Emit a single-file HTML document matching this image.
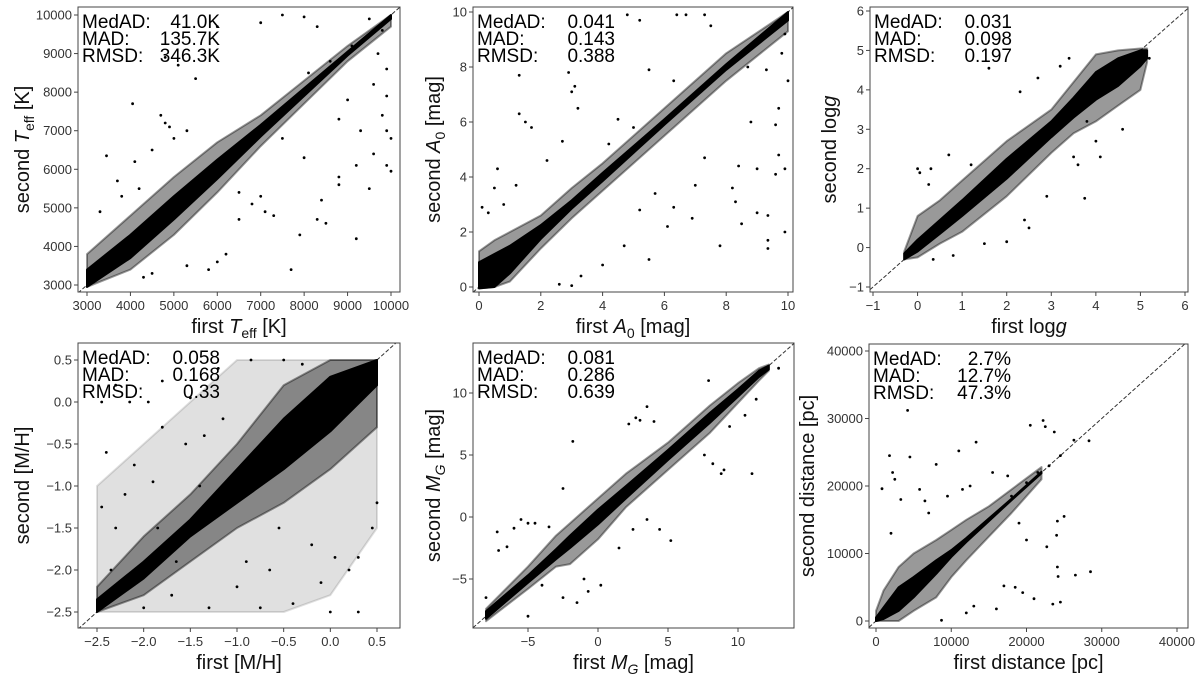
<!DOCTYPE html>
<html><head><meta charset="utf-8">
<style>
body{margin:0;background:#fff;}
svg{display:block;font-family:"Liberation Sans","DejaVu Sans",sans-serif;}
.tick{font-size:13px;fill:#333;}
.title{font-size:20px;fill:#111;}
.ann{font-size:19px;fill:#000;}
</style></head>
<body>
<svg id="fig" width="1200" height="675" viewBox="0 0 1200 675" xmlns="http://www.w3.org/2000/svg"></svg>
<script>
// ---------- Panel 1: Teff ----------
const teffBandX   = [3000,4000,5000,6000,7000,8000,9000,10000];
const teffCoreLo  = [2950,3700,4700,5750,6850,7900,8950,9900];
const teffCoreHi  = [3400,4300,5300,6250,7150,8100,9050,10000];
const teffHaloLo  = [2950,3400,4300,5400,6600,7700,8800,9700];
const teffHaloHi  = [3800,4800,5800,6700,7400,8300,9200,10000];
const teffOutX = [4800,4700,4900,4050,3450,4100,3700,4200,3300,3800,5500,5100,4800,6000,7000,7500,8000,8300,9500,8600,9100,9700,9900,9600,9900,9000,9800,9900,10000,9600,9900,10000,9200,8800,8800,8400,8300,8500,7900,9200,7700,7300,7100,6800,7000,6500,6200,6000,5800,5300,4500,4300,6500,5000,5300,4500,8100,8800,9300,9500,8000,7500,9800];
const teffOutY = [7200,7400,7100,7700,6350,6200,5700,5500,4900,5300,8350,8700,8900,9700,9800,10000,9950,9700,9900,8800,9200,9000,8600,8200,7900,7800,7400,7000,6800,6400,6100,5950,6100,5800,5600,5200,4700,4600,4300,4200,3400,4800,4900,5100,5300,4700,3800,3600,3400,3500,3300,3200,5400,6800,7000,6500,8500,7300,7000,5500,6300,6800,9600];
const teffTicks = [3000,4000,5000,6000,7000,8000,9000,10000];
const teffStats = ["41.0K","135.7K","346.3K"];

// ---------- Panel 2: A0 ----------
const a0BandX  = [0,0.5,1,2,3,4,6,8,10];
const a0CoreLo = [-0.05,0,0.5,1.75,2.85,3.85,5.9,7.9,9.7];
const a0CoreHi = [0.9,1.2,1.5,2.25,3.15,4.15,6.1,8.1,10];
const a0HaloLo = [-0.05,0,0.2,1.4,2.5,3.5,5.5,7.5,9.3];
const a0HaloHi = [1.3,1.7,2.0,2.6,3.6,4.5,6.5,8.5,10];
const a0OutX = [1.3,1.3,1.5,1.7,2.9,3.0,3.1,2.7,3.2,2.2,0.6,0.5,0.1,0.3,1.2,0.8,4.8,5.2,6.4,6.7,7.3,7.5,8.7,9.3,9.7,9.6,9.7,9.9,9.6,9.0,8.4,8.2,8.3,7.8,8.5,9.0,9.35,9.35,9.35,9.9,7.0,6.3,6.1,5.5,4.7,5.2,3.0,2.6,4.0,3.3,6.9,7.3,5.7,8.8,9.8,9.9,10,6.3,5.5,4.5,4.2,5.0];
const a0OutY = [7.7,6.3,6.0,5.8,7.8,7.1,7.3,5.3,6.5,4.6,4.3,3.6,2.9,2.7,3.7,3.0,9.9,9.7,9.9,9.9,9.9,9.5,8.0,7.9,6.5,5.9,4.8,4.3,4.1,4.3,4.4,3.6,3.1,1.5,2.3,2.7,2.6,1.7,1.4,2.0,3.7,2.9,2.2,1.0,1.5,2.8,0.05,0.1,0.8,0.4,2.5,4.7,3.4,6.0,8.5,9.2,7.5,7.5,7.9,6.1,5.2,5.8];
const a0Ticks = [0,2,4,6,8,10];
const a0Stats = ["0.041","0.143","0.388"];

// ---------- Panel 3: logg ----------
const lgBandX  = [-0.3,0,0.5,1,2,3,3.5,4,4.5,5,5.15];
const lgCoreLo = [-0.3,-0.1,0.35,0.8,1.75,2.8,3.3,3.75,4.1,4.6,4.8];
const lgCoreHi = [-0.15,0.2,0.7,1.2,2.25,3.2,3.8,4.45,4.8,5.0,5.0];
const lgHaloLo = [-0.3,-0.25,0.1,0.4,1.3,2.4,2.9,3.2,3.6,4.0,4.7];
const lgHaloHi = [-0.1,0.8,1.2,1.7,2.7,3.5,4.2,4.9,5.0,5.05,5.05];
const lgOutX = [0,0.05,0.3,0.7,1.6,2.3,2.7,3.2,3.4,3.6,3.75,4.1,2.9,2.5,2.0,1.5,0.35,4.6,4.0,3.8,3.5,2.4,1.2,0.25,5.2,0.8];
const lgOutY = [2.0,1.9,2.0,2.35,4.55,3.95,4.3,4.6,4.8,2.1,1.25,2.3,1.3,0.5,0.15,0.1,-0.3,3.0,2.7,3.2,2.3,0.7,2.1,1.6,4.8,-0.2];
const lgTicks = [-1,0,1,2,3,4,5,6];
const lgStats = ["0.031","0.098","0.197"];

// ---------- Panel 4: [M/H] ----------
const mhBandX  = [-2.5,-2.0,-1.5,-1.0,-0.5,0,0.5];
const mhCoreLo = [-2.5,-2.1,-1.6,-1.2,-0.8,-0.35,0.2];
const mhCoreHi = [-2.35,-1.9,-1.4,-0.8,-0.2,0.3,0.5];
const mhHaloLo = [-2.5,-2.3,-1.9,-1.5,-1.2,-0.8,-0.3];
const mhHaloHi = [-2.2,-1.6,-1.1,-0.5,0.2,0.5,0.5];
const mhSparseLo = [-2.5,-2.5,-2.5,-2.5,-2.5,-2.3,-1.5];
const mhSparseHi = [-1.0,-0.5,0.0,0.5,0.5,0.5,0.5];
const mhOutX = [-1.95,-2.3,-1.8,-1.5,-1.2,-0.85,-0.5,-0.3,-2.4,-2.1,-1.8,-2.2,-2.45,-2.3,-1.85,-2.35,-2.0,-1.7,-1.3,-1.0,-0.65,-0.4,0,0.3,-0.1,0.05,0.3,0.45,0.5,-0.2,-1.55,-1.15,-1.9,-1.65,-0.55,-0.9,-1.4,-2.15,-1.35,-0.75,0.2,-2.45];
const mhOutY = [0,0.2,0.25,0.05,0.4,0.5,0.5,0.45,-0.6,-0.75,-0.3,-1.1,-1.25,-1.5,-1.5,-2.0,-2.45,-2.3,-2.45,-2.2,-2.0,-2.4,-2.5,-2.5,-2.15,-1.85,-1.85,-1.5,-1.2,-1.7,-0.5,-0.2,-0.95,-1.9,-1.5,-1.9,-1.0,0.0,-0.4,-2.45,-2.0,0.0];
const mhTicks = [-2.5,-2.0,-1.5,-1.0,-0.5,0.0,0.5];
const mhStats = ["0.058","0.168","0.33"];

// ---------- Panel 5: MG ----------
const mgBandX  = [-8,-5,-3,-2,0,2,5,8,10,11.5,12.2];
const mgCoreLo = [-8.2,-5.3,-3.4,-2.5,-0.6,1.5,4.6,7.6,9.7,11.3,11.9];
const mgCoreHi = [-7.6,-4.7,-2.6,-1.5,0.6,2.5,5.4,8.4,10.3,11.8,12.2];
const mgHaloLo = [-8.4,-5.8,-4.0,-3.8,-1.8,0.8,3.8,6.8,9.2,11.0,11.8];
const mgHaloHi = [-7.4,-4.0,-1.5,-0.5,1.5,3.5,6.0,9.0,10.8,12.0,12.3];
const mgOutX = [-7.2,-7.1,-6.5,-5.5,-5,-4.5,-3.5,-2.5,-1.8,2.2,2.7,3,3.5,4,7.9,8.3,10.5,11.3,12.9,11,9,8.8,7.6,8.2,5.2,4.4,3.5,2.5,0.2,-0.7,-1.5,-2.5,-5,-8,-4,-1,1.5,9.4,-6];
const mgOutY = [-1.2,-2.7,-2.4,-0.2,-0.5,-0.5,-0.8,2.3,6.1,7.5,8.0,7.8,8.9,7.7,11,8.2,8.2,9.5,12,3.5,3.8,3.5,5,4.3,-1.9,-1.0,-0.2,-1.0,-5.5,-6,-6.9,-6.5,-8,-6.5,-5.5,-5,-2.5,7.3,-0.9];
const mgTicks = [-5,0,5,10];
const mgStats = ["0.081","0.286","0.639"];

// ---------- Panel 6: distance ----------
const dBandX  = [0,1000,3000,5000,8000,10000,12000,15000,18000,22000];
const dCoreLo = [0,300,1500,3500,7000,9500,11700,14800,17900,21900];
const dCoreHi = [500,2000,5000,6500,9000,10500,12300,15200,18100,22100];
const dHaloLo = [0,0,0,1500,3500,6500,9000,12500,16000,21000];
const dHaloHi = [1500,4500,8000,10000,12000,13500,15000,17000,19500,22800];
const dOutX = [4200,1800,2200,2500,800,4500,8000,11000,13300,15500,17500,20500,22200,22500,23700,26300,28300,25000,24100,24000,24100,24200,26500,28500,23500,24500,21000,19500,18500,17000,16000,12000,13000,8700,22700,20000,19000,3300,5800,6500,9500,11500,12500,7000,2000,18000,20000,21500,23000,24500];
const dOutY = [31200,24500,22000,21000,19600,24300,23200,25200,26500,22000,21500,29000,29700,28800,28000,26800,26700,15500,14800,12700,8000,6600,6800,7300,2500,2800,3300,4200,5000,5200,1800,1200,2200,100,11000,12000,14500,18000,19500,17800,18500,19500,20000,16000,13000,18500,20500,22000,23000,24500];
const dTicks = [0,10000,20000,30000,40000];
const dStats = ["2.7%","12.7%","47.3%"];

const NS = "http://www.w3.org/2000/svg";
const svg = document.getElementById('fig');
function mk(tag, attrs, parent){ const e=document.createElementNS(NS,tag); for(const k in attrs) e.setAttribute(k,attrs[k]); (parent||svg).appendChild(e); return e; }

const panels = [
 {key:'teff', box:[78,7,400,292], t:[3000,10000], tp:[87,391], ty:[285,15],
  bandX:teffBandX, core:[teffCoreLo,teffCoreHi], halo:[teffHaloLo,teffHaloHi], ox:teffOutX, oy:teffOutY, ticks:teffTicks, stats:teffStats, fmt:v=>String(v),
  xt:'first <tspan font-style="italic">T</tspan><tspan font-size="14" dy="5">eff</tspan><tspan dy="-5"> [K]</tspan>',
  ytl:'second <tspan font-style="italic">T</tspan><tspan font-size="14" dy="5">eff</tspan><tspan dy="-5"> [K]</tspan>', ytx:22},
 {key:'a0', box:[473,7,793,292], t:[0,10], tp:[479,788], ty:[287,12],
  bandX:a0BandX, core:[a0CoreLo,a0CoreHi], halo:[a0HaloLo,a0HaloHi], ox:a0OutX, oy:a0OutY, ticks:a0Ticks, stats:a0Stats, fmt:v=>String(v),
  xt:'first <tspan font-style="italic">A</tspan><tspan font-size="14" dy="5">0</tspan><tspan dy="-5"> [mag]</tspan>',
  ytl:'second <tspan font-style="italic">A</tspan><tspan font-size="14" dy="5">0</tspan><tspan dy="-5"> [mag]</tspan>', ytx:433},
 {key:'logg', box:[870,7,1188,292], t:[-1,6], tp:[873,1185], ty:[287,11],
  bandX:lgBandX, core:[lgCoreLo,lgCoreHi], halo:[lgHaloLo,lgHaloHi], ox:lgOutX, oy:lgOutY, ticks:lgTicks, stats:lgStats, fmt:v=>v<0?'\u2212'+Math.abs(v):String(v),
  xt:'first log<tspan font-style="italic">g</tspan>', ytl:'second log<tspan font-style="italic">g</tspan>', ytx:829},
 {key:'mh', box:[78,343,400,628], t:[-2.5,0.5], tp:[97,377], ty:[612,360],
  bandX:mhBandX, core:[mhCoreLo,mhCoreHi], halo:[mhHaloLo,mhHaloHi], sparse:[mhSparseLo,mhSparseHi], ox:mhOutX, oy:mhOutY, ticks:mhTicks, stats:mhStats, fmt:v=>(v<0?'\u2212':'')+Math.abs(v).toFixed(1),
  xt:'first [M/H]', ytl:'second [M/H]', ytx:22},
 {key:'mg', box:[473,343,794,628], t:[-5,10], tp:[528,738], ty:[579,393],
  bandX:mgBandX, core:[mgCoreLo,mgCoreHi], halo:[mgHaloLo,mgHaloHi], ox:mgOutX, oy:mgOutY, ticks:mgTicks, stats:mgStats, fmt:v=>v<0?'\u2212'+Math.abs(v):String(v),
  xt:'first <tspan font-style="italic">M</tspan><tspan font-size="14" font-style="italic" dy="5">G</tspan><tspan dy="-5"> [mag]</tspan>',
  ytl:'second <tspan font-style="italic">M</tspan><tspan font-size="14" font-style="italic" dy="5">G</tspan><tspan dy="-5"> [mag]</tspan>', ytx:433},
 {key:'dist', box:[869,344,1188,628], t:[0,40000], tp:[876,1177], ty:[621,351],
  bandX:dBandX, core:[dCoreLo,dCoreHi], halo:[dHaloLo,dHaloHi], ox:dOutX, oy:dOutY, ticks:dTicks, stats:dStats, fmt:v=>String(v),
  xt:'first distance [pc]', ytl:'second distance [pc]', ytx:807}
];

panels.forEach(p=>{
  const [x0,y0,x1,y1]=p.box;
  const sx=v=>p.tp[0]+(v-p.t[0])*(p.tp[1]-p.tp[0])/(p.t[1]-p.t[0]);
  const sy=v=>p.ty[0]+(v-p.t[0])*(p.ty[1]-p.ty[0])/(p.t[1]-p.t[0]);
  const g=mk('g',{});
  
  
  const clipId='clip-'+p.key;
  const cp=mk('clipPath',{id:clipId},g); mk('rect',{x:x0,y:y0,width:x1-x0,height:y1-y0},cp);
  const plot=mk('g',{'clip-path':'url(#'+clipId+')'},g);
  
  
  // 1:1 dashed line (under the points)
  const lo=p.t[0]-(p.tp[0]-x0)*(p.t[1]-p.t[0])/(p.tp[1]-p.tp[0]);
  const hi=p.t[1]+(x1-p.tp[1])*(p.t[1]-p.t[0])/(p.tp[1]-p.tp[0]);
  const dl=mk('line',{x1:sx(lo),y1:sy(lo),x2:sx(hi),y2:sy(hi),stroke:'#333','stroke-width':1,'stroke-dasharray':'4,2'},plot);
  
  
  function band(lohi, fill, op, name){
    const [lo,hi]=lohi; let pts=[];
    p.bandX.forEach((x,i)=>pts.push(sx(x).toFixed(1)+','+sy(hi[i]).toFixed(1)));
    for(let i=p.bandX.length-1;i>=0;i--) pts.push(sx(p.bandX[i]).toFixed(1)+','+sy(lo[i]).toFixed(1));
    const e=mk('polygon',{points:pts.join(' '),fill:fill,'fill-opacity':op,'stroke':fill,'stroke-opacity':op,'stroke-width':2,'stroke-linejoin':'round'},plot);
    
    
  }
  if(p.sparse) band(p.sparse,'#000',0.12,p.key+'-sparse-cloud');
  band(p.halo,'#000',0.4,p.key+'-halo-cloud');
  band(p.core,'#000',1,p.key+'-dense-core');
  p.ox.forEach((x,i)=>{
    const c=mk('circle',{cx:sx(x).toFixed(1),cy:sy(p.oy[i]).toFixed(1),r:1.4,fill:'#000'},plot);
    
    
  });
  const fr=mk('rect',{x:x0,y:y0,width:x1-x0,height:y1-y0,fill:'none',stroke:'#444','stroke-width':1},g);
  
  
  p.ticks.forEach(v=>{
    const X=sx(v), Y=sy(v);
    mk('line',{x1:X,y1:y1,x2:X,y2:y1+4,stroke:'#444'},g);
    const tx=mk('text',{x:X,y:y1+18,'text-anchor':'middle',class:'tick'},g); tx.textContent=p.fmt(v);
    
    
    mk('line',{x1:x0-4,y1:Y,x2:x0,y2:Y,stroke:'#444'},g);
    const ty=mk('text',{x:x0-6,y:Y+4.5,'text-anchor':'end',class:'tick'},g); ty.textContent=p.fmt(v);
    
    
  });
  const xt=mk('text',{x:(x0+x1)/2,y:y1+41,'text-anchor':'middle',class:'title'},g); xt.innerHTML=p.xt;
  
  
  const cy=(y0+y1)/2;
  const yt=mk('text',{x:p.ytx,y:cy,'text-anchor':'middle',class:'title',transform:'rotate(-90 '+p.ytx+' '+cy+') translate(0,7)'},g); yt.innerHTML=p.ytl;
  
  
  const labels=['MedAD:','MAD:','RMSD:'];
  labels.forEach((l,i)=>{
    const a=mk('text',{x:x0+4,y:y0+21+i*17,class:'ann'},g); a.textContent=l;
    
    
    const b=mk('text',{x:x0+142,y:y0+21+i*17,class:'ann','text-anchor':'end'},g); b.textContent=p.stats[i];
    
    
  });
});
</script>
</body></html>
